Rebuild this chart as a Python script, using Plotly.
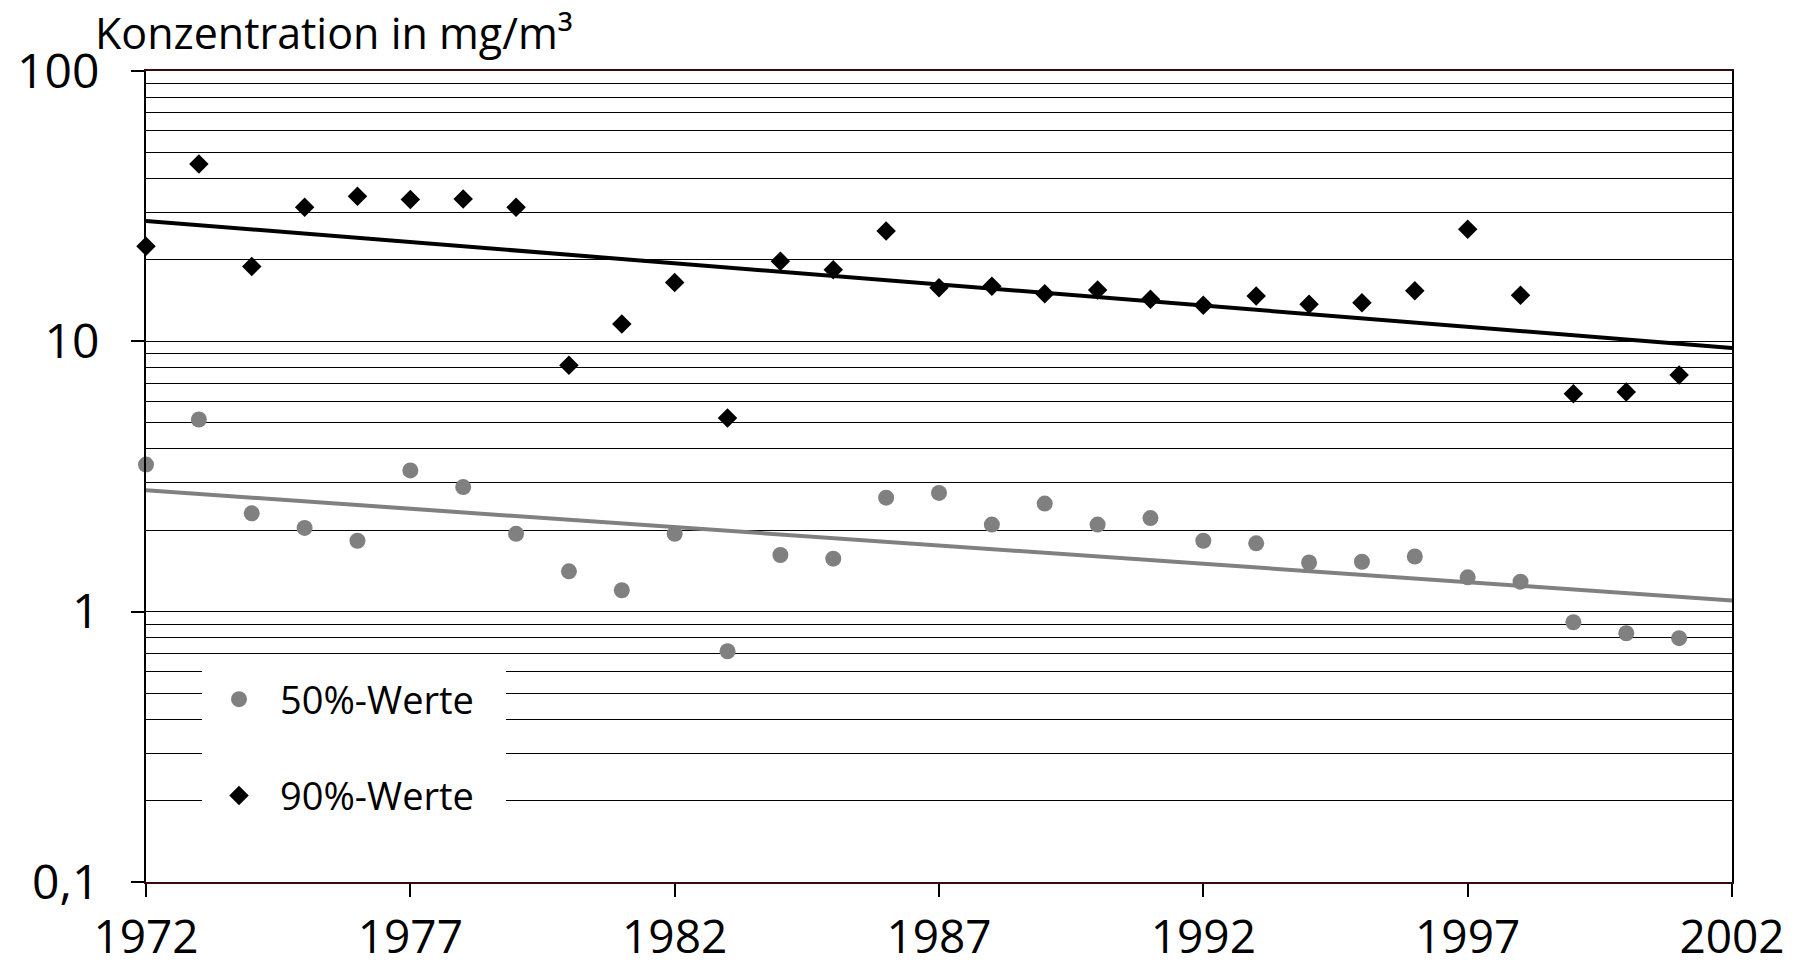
import plotly.graph_objects as go

years = list(range(1972, 2002))
p90 = [22.5, 45.3, 18.9, 31.3, 34.4, 33.5, 33.6, 31.3, 8.15, 11.6,
       16.5, 5.2, 19.8, 18.4, 25.6, 15.8, 16.0, 15.0, 15.5, 14.3,
       13.6, 14.7, 13.7, 13.9, 15.4, 26.0, 14.8, 6.4, 6.5, 7.5]
p50 = [3.50, 5.14, 2.31, 2.04, 1.83, 3.33, 2.89, 1.94, 1.41, 1.20,
       1.94, 0.714, 1.62, 1.57, 2.64, 2.75, 2.10, 2.51, 2.10, 2.22,
       1.83, 1.79, 1.52, 1.53, 1.60, 1.34, 1.29, 0.914, 0.832, 0.798]
trend_years = [1972, 2002]
trend90 = [27.9, 9.45]
trend50 = [2.81, 1.10]

xticks = [1972, 1977, 1982, 1987, 1992, 1997, 2002]
yticks = [0.1, 1, 10, 100]
yticktext = ["0,1", "1", "10", "100"]
minor_vals = [m * d for d in (0.1, 1, 10) for m in range(2, 10)]

FONT = "Open Sans"
GRAY = "#808080"

fig = go.Figure()
fig.add_trace(go.Scatter(x=trend_years, y=trend50, mode="lines",
                         line=dict(color=GRAY, width=4), showlegend=False,
                         hoverinfo="skip"))
fig.add_trace(go.Scatter(x=trend_years, y=trend90, mode="lines",
                         line=dict(color="black", width=4), showlegend=False,
                         hoverinfo="skip"))
fig.add_trace(go.Scatter(x=years, y=p50, mode="markers", name="50%-Werte",
                         legendgroup="a",
                         marker=dict(symbol="circle", size=16, color=GRAY),
                         cliponaxis=False))
fig.add_trace(go.Scatter(x=years, y=p90, mode="markers", name="90%-Werte",
                         legendgroup="b",
                         marker=dict(symbol="diamond", size=15, color="black"),
                         cliponaxis=False))

L, R, T, B = 146, 68, 71, 83
W, H = 1800, 965
pw, ph = W - L - R, H - T - B

def px(xp):
    return (xp - L) / pw

def py(yp):
    return 1 - (yp - T) / ph

fig.add_shape(type="rect", xref="paper", yref="paper",
              x0=px(202), x1=px(506), y0=py(836), y1=py(662),
              fillcolor="white", line=dict(width=0), layer="above")

fig.add_annotation(text="Konzentration in mg/m³", xref="paper", yref="paper",
                   x=px(93), y=py(1), xanchor="left", yanchor="top",
                   showarrow=False, font=dict(family=FONT, size=43, color="black"))

fig.update_layout(
    width=W, height=H,
    margin=dict(l=L, r=R, t=T, b=B, autoexpand=False),
    paper_bgcolor="white", plot_bgcolor="white",
    font=dict(family=FONT, color="black"),
    showlegend=True,
    legend=dict(x=px(198), y=py(668), xanchor="left", yanchor="top",
                bgcolor="rgba(0,0,0,0)", font=dict(family=FONT, size=38),
                itemwidth=72, tracegroupgap=44, borderwidth=0),
    xaxis=dict(range=[1972, 2002], tickvals=xticks, ticks="outside", ticklen=13,
               tickwidth=1.5, tickcolor="black", showgrid=False, zeroline=False,
               showline=True, linecolor="#3a0a0a", linewidth=1.5, mirror=True,
               automargin=False,
               tickfont=dict(family=FONT, size=46), ticklabelstandoff=1),
    yaxis=dict(type="log", range=[-1, 2], tickvals=yticks, ticktext=yticktext,
               ticks="outside", ticklen=13, tickwidth=1.5, tickcolor="black",
               showgrid=True, gridcolor="black", gridwidth=1.4,
               minor=dict(tickvals=minor_vals, showgrid=True, gridcolor="black",
                          gridwidth=1.4, ticks=""),
               showline=True, linecolor="black", linewidth=2, mirror=True,
               zeroline=False, automargin=False,
               tickfont=dict(family=FONT, size=48), ticklabelstandoff=22),
)

fig.write_html("out.html",
               config={"displayModeBar": False},
               post_script="document.body.style.margin='0';"
                           "document.body.style.overflow='hidden';")
